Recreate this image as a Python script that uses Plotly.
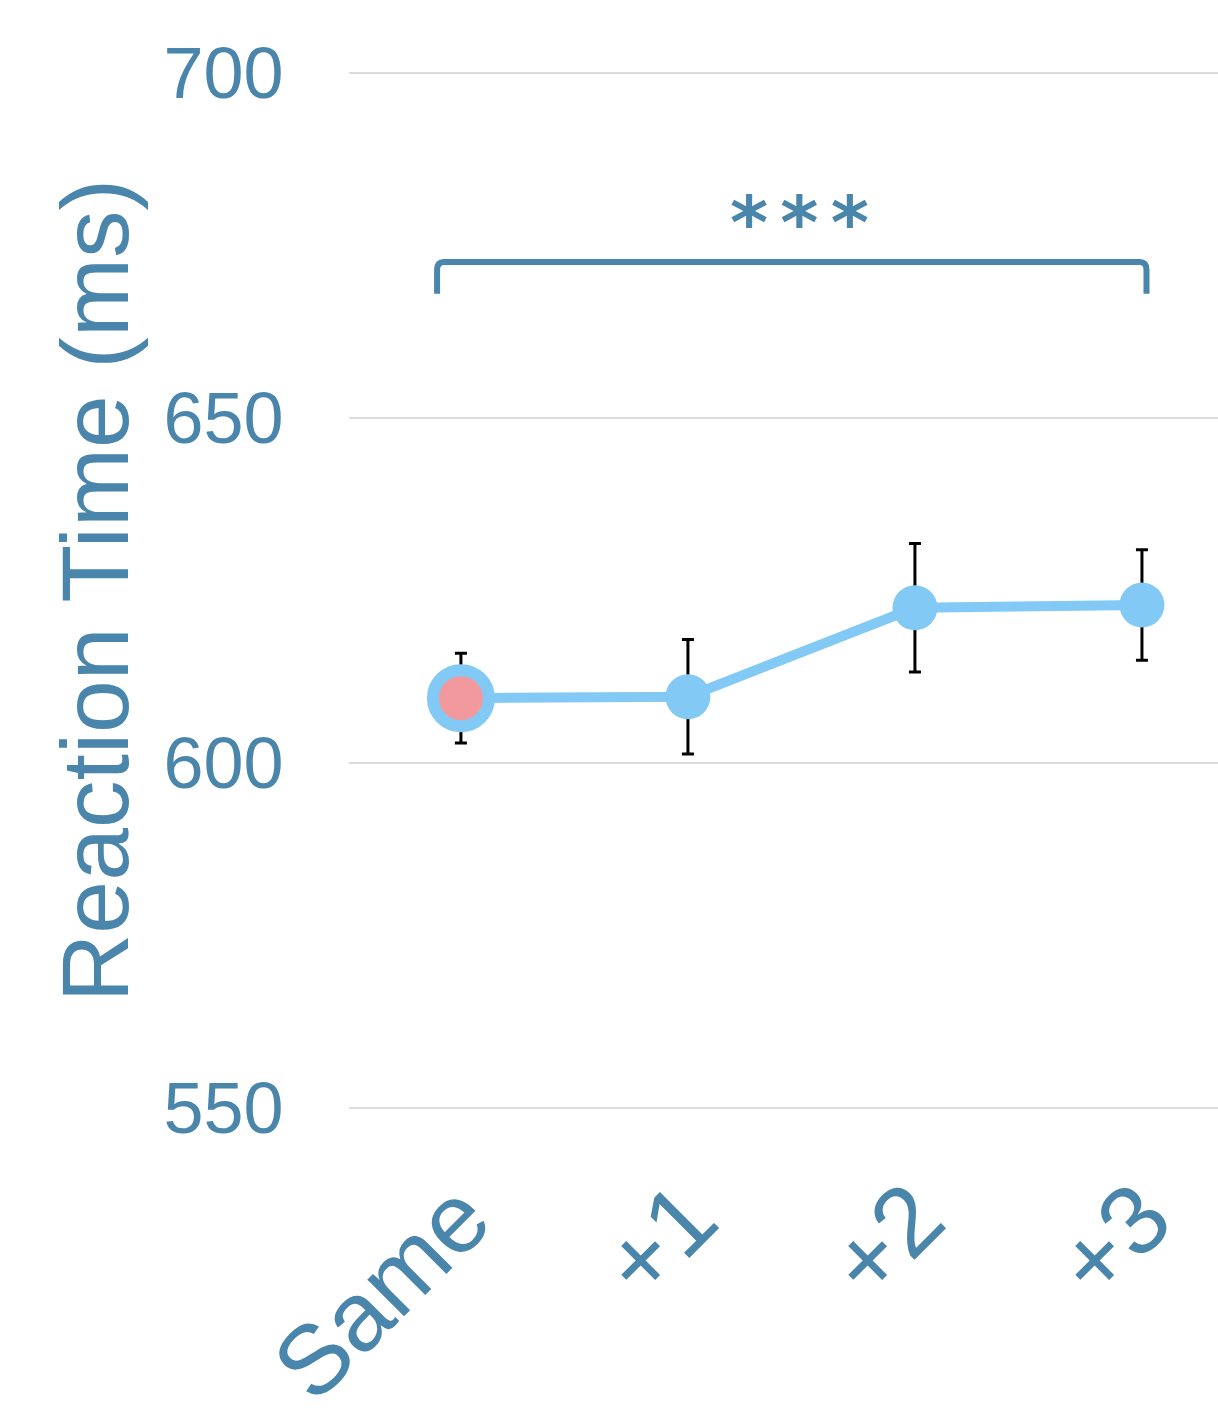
import plotly.graph_objects as go

categories = ["Same", "+1", "+2", "+3"]
rt_mean = [609.4, 609.6, 622.5, 622.9]
rt_err = [6.5, 8.3, 9.3, 8.0]
y_ticks = [550, 600, 650, 700]
sig_label = "<b>*\u2006*\u2006*</b>"
bracket_x = [-0.105, 3.02]
bracket_y_top = 672.6
bracket_y_bottom = 668.0

TEXT = "#4A86AB"
LINE = "#82CAF5"
PINK = "#F2999E"

xs = list(range(len(categories)))

fig = go.Figure()
fig.add_trace(go.Scatter(
    x=xs, y=rt_mean, mode="lines+markers",
    line=dict(color=LINE, width=10),
    marker=dict(size=45, color=LINE),
    error_y=dict(type="data", array=rt_err, color="black", thickness=3, width=6),
    showlegend=False, hoverinfo="skip"))
# highlighted reference point
fig.add_trace(go.Scatter(
    x=[xs[0]], y=[rt_mean[0]], mode="markers",
    marker=dict(size=56, color=PINK, line=dict(color=LINE, width=12)),
    showlegend=False, hoverinfo="skip"))

x0, x1 = bracket_x
rx, ry = 0.03, 1.1
path = (f"M {x0},{bracket_y_bottom} L {x0},{bracket_y_top - ry} "
        f"Q {x0},{bracket_y_top} {x0 + rx},{bracket_y_top} "
        f"L {x1 - rx},{bracket_y_top} "
        f"Q {x1},{bracket_y_top} {x1},{bracket_y_top - ry} "
        f"L {x1},{bracket_y_bottom}")
fig.add_shape(type="path", path=path, xref="x", yref="y",
              line=dict(color=TEXT, width=6))
fig.add_annotation(x=1.493, y=bracket_y_top, text=sig_label,
                   showarrow=False, yanchor="bottom", yshift=-5,
                   font=dict(family="DejaVu Sans", size=73, color=TEXT))

fig.update_layout(
    width=1218, height=1418,
    margin=dict(l=349, r=0, t=4, b=241, autoexpand=False),
    plot_bgcolor="white", paper_bgcolor="white",
    font=dict(family="Liberation Sans, Arial", color=TEXT),
    xaxis=dict(range=[-0.493, 3.335], tickvals=xs, ticktext=categories,
               tickangle=-45, tickfont=dict(size=98, color=TEXT),
               showgrid=False, zeroline=False, showline=False,
               automargin=False, ticks="", ticklabelstandoff=-37),
    yaxis=dict(range=[540, 710], tickvals=y_ticks,
               tickfont=dict(size=72, color=TEXT),
               showgrid=True, gridcolor="#DCDCDC", gridwidth=2,
               zeroline=False, showline=False, automargin=False,
               ticks="outside", ticklen=50, tickcolor="rgba(0,0,0,0)",
               title=dict(text="Reaction Time (ms)", standoff=3,
                          font=dict(size=95, color=TEXT))),
)
fig.write_html("out.html")
